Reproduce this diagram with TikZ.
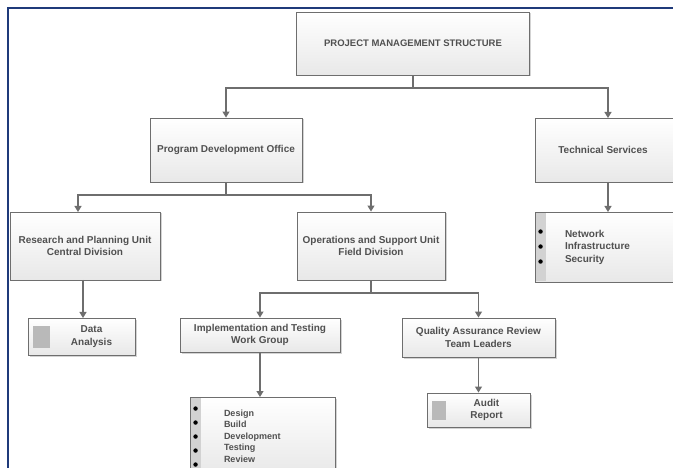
\documentclass[tikz,border=0pt]{standalone}
\usepackage{fontspec}
\setmainfont{Liberation Sans}
\usetikzlibrary{calc,shadows,arrows.meta}
\definecolor{frameblue}{HTML}{1F3A7A}
\definecolor{boxedge}{HTML}{6E6E6E}
\definecolor{txt}{HTML}{505050}
\tikzset{
  box/.style={draw=boxedge, line width=0.9pt, top color=white, bottom color=gray!18,
    drop shadow={shadow xshift=1.5pt, shadow yshift=-1.5pt, opacity=0.35},
    align=center, text=txt, font=\fontsize{10}{12.5}\selectfont\bfseries, inner sep=3pt},
  conn/.style={draw=boxedge, line width=1.2pt},
  arr/.style={conn, -{Triangle[length=6pt,width=7pt]}},
  strip/.style={fill=gray!35, draw=none},
  bul/.style={fill=black},
  icon/.style={fill=gray!55, draw=none}
}
\begin{document}
\begin{tikzpicture}[x=1pt,y=-1pt]
\useasboundingbox (0,0) rectangle (673,468);
\begin{scope}
\clip (0,0) rectangle (673,468);
% frame
\draw[frameblue, line width=1.6pt] (8,475) -- (8,8) -- (680,8);

% boxes
\node[box, minimum width=233pt, minimum height=63pt, font=\fontsize{9.5}{12}\selectfont\bfseries] (top) at (413,43.5) {PROJECT MANAGEMENT STRUCTURE};
\node[box, minimum width=152pt, minimum height=64pt] (pdo) at (226,150) {Program Development Office};
\node[box, minimum width=150pt, minimum height=64pt] (ts) at (610,150) {\hspace*{-14pt}Technical Services};
\node[box, minimum width=150pt, minimum height=68pt] (rp) at (85,246) {Research and Planning Unit\\Central Division};
\node[box, minimum width=148pt, minimum height=68pt] (os) at (371,246) {Operations and Support Unit\\Field Division};
\node[box, minimum width=150pt, minimum height=70pt, align=left, text width=130pt] (net) at (610,247) {\hspace*{20pt}Network\\\hspace*{20pt}Infrastructure\\\hspace*{20pt}Security};
\node[box, minimum width=107pt, minimum height=37pt] (da) at (81.5,336.5) {\hspace*{20pt}Data\\\hspace*{20pt}Analysis};
\node[box, minimum width=160pt, minimum height=34pt] (it) at (260,335) {Implementation and Testing\\Work Group};
\node[box, minimum width=153pt, minimum height=39pt] (qa) at (478.5,337.5) {Quality Assurance Review\\Team Leaders};
\node[box, minimum width=145pt, minimum height=78pt, align=left, text width=125pt, font=\fontsize{9}{11.5}\selectfont\bfseries] (dl) at (262.5,436) {\hspace*{24pt}Design\\\hspace*{24pt}Build\\\hspace*{24pt}Development\\\hspace*{24pt}Testing\\\hspace*{24pt}Review};
\node[box, minimum width=103pt, minimum height=34pt] (ar) at (478.5,410) {\hspace*{16pt}Audit\\\hspace*{16pt}Report};

% bullet strips and bullets
\fill[strip] ($(net.north west)+(1,1)$) rectangle ($(net.south west)+(11,-1)$);
\foreach \d in {20,35,50} \fill[bul] ($(net.north west)+(6,\d)$) circle (2.2pt);
\fill[strip] ($(dl.north west)+(1,1)$) rectangle ($(dl.south west)+(11,-1)$);
\foreach \d in {12,26,40,54,68} \fill[bul] ($(dl.north west)+(6,\d)$) circle (2.2pt);
% small icons
\fill[icon] ($(da.north west)+(5,8)$) rectangle ($(da.north west)+(22,30)$);
\fill[icon] ($(ar.north west)+(5,8)$) rectangle ($(ar.north west)+(19,27)$);

% connectors
\coordinate (b1) at (413,88);
\draw[conn] (top.south) -- (b1);
\draw[arr] (b1) -| (pdo.north);
\draw[arr] (b1) -| (608,118);
\coordinate (b2) at (226,195);
\draw[conn] (pdo.south) -- (b2);
\draw[arr] (b2) -| (78,212);
\draw[arr] (b2) -| (os.north);
\coordinate (t3) at (608,182);
\coordinate (t6) at (608,212);
\draw[arr] (t3) -- (t6);
\coordinate (s4) at (83,280);
\coordinate (t7) at (83,318);
\draw[arr] (s4) -- (t7);
\coordinate (b3) at (371,293);
\draw[conn] (os.south) -- (b3);
\draw[arr] (b3) -| (it.north);
\draw[arr] (b3) -| (qa.north);
\coordinate (t10) at (260,397);
\draw[arr] (it.south) -- (t10);
\draw[arr] (qa.south) -- (ar.north);
\end{scope}
\end{tikzpicture}
\end{document}
